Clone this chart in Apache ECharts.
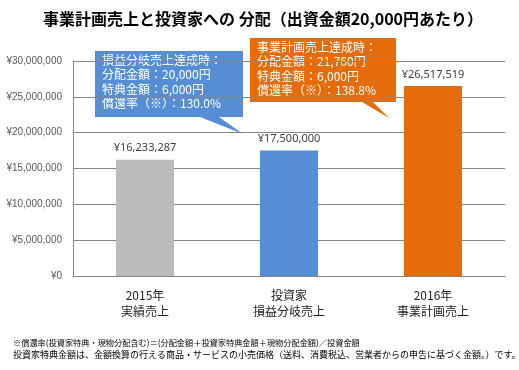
<!DOCTYPE html>
<html><head><meta charset="utf-8">
<script src="https://cdn.jsdelivr.net/npm/echarts@6/dist/echarts.min.js"></script>
<style>html,body{margin:0;padding:0;background:#fff}#c{width:519px;height:370px}</style>
</head><body><div id="c"></div>
<script>
const categories = ['2015年\n実績売上', '投資家\n損益分岐売上', '2016年\n事業計画売上'];
const sales = [16233287, 17500000, 26517519];
const barColors = ['#BBBBBB', '#558ED5', '#E46C0A'];
const blueNote = ['損益分岐売上達成時：', '分配金額：20,000円', '特典金額：6,000円', '償還率（※）：130.0%'];
const orangeNote = ['事業計画売上達成時：', '分配金額：21,760円', '特典金額：6,000円', '償還率（※）：138.8%'];
const footnotes = [
  '※償還率(投資家特典・現物分配含む)＝(分配金額＋投資家特典金額＋現物分配金額)／投資金額',
  '投資家特典金額は、金額換算の行える商品・サービスの小売価格（送料、消費税込、営業者からの申告に基づく金額。）です。'
];
const yen = v => '¥' + Number(v).toLocaleString('en-US');
const cjk = '"Noto Sans CJK JP", "Noto Sans", sans-serif';

const chart = echarts.init(document.getElementById('c'));
chart.setOption({
  animation: false,
  title: {
    text: '事業計画売上と投資家への 分配（出資金額20,000円あたり）',
    left: 38, top: 6,
    textStyle: { fontFamily: cjk, fontSize: 16, fontWeight: 'bold', color: '#000' }
  },
  grid: { left: 73, right: 14, top: 61, bottom: 94 },
  xAxis: {
    type: 'category', data: categories,
    axisLine: { lineStyle: { color: '#868686' } },
    axisTick: { show: false },
    axisLabel: { fontFamily: cjk, fontSize: 12, lineHeight: 16, color: '#222', margin: 11 }
  },
  yAxis: {
    type: 'value', min: 0, max: 30000000, interval: 5000000,
    axisLine: { show: true, lineStyle: { color: '#868686' } },
    axisTick: { show: false },
    splitLine: { lineStyle: { color: '#868686' } },
    axisLabel: { formatter: yen, fontFamily: '"Liberation Sans", sans-serif', fontSize: 10, color: '#595959', margin: 11 }
  },
  series: [{
    type: 'bar', barWidth: 58,
    data: sales.map((v, i) => ({ value: v, itemStyle: { color: barColors[i] } })),
    label: { show: true, position: 'top', distance: 6, formatter: p => yen(p.value),
      fontFamily: '"Noto Sans", sans-serif', fontSize: 11, color: '#404040' }
  }],
  graphic: [
    { type: 'polygon', shape: { points: [[95,51],[243,51],[243,117],[219,117],[243,134],[200,117],[95,117]] },
      style: { fill: '#558ED5' } },
    { type: 'text', left: 102, top: 53, style: { text: blueNote.join('\n'), fill: '#fff', fontFamily: cjk, fontSize: 12, lineHeight: 14.5 } },
    { type: 'polygon', shape: { points: [[250,38],[396,38],[396,102],[373,102],[389,118],[362,102],[250,102]] },
      style: { fill: '#E46C0A' } },
    { type: 'text', left: 257, top: 40, style: { text: orangeNote.join('\n'), fill: '#fff', fontFamily: cjk, fontSize: 12, lineHeight: 14.5 } },
    { type: 'text', left: 13, top: 339, style: { text: footnotes[0], fill: '#000', fontFamily: cjk, fontSize: 8.2 } },
    { type: 'text', left: 13, top: 350, style: { text: footnotes[1], fill: '#000', fontFamily: cjk, fontSize: 9 } }
  ]
});
</script></body></html>
